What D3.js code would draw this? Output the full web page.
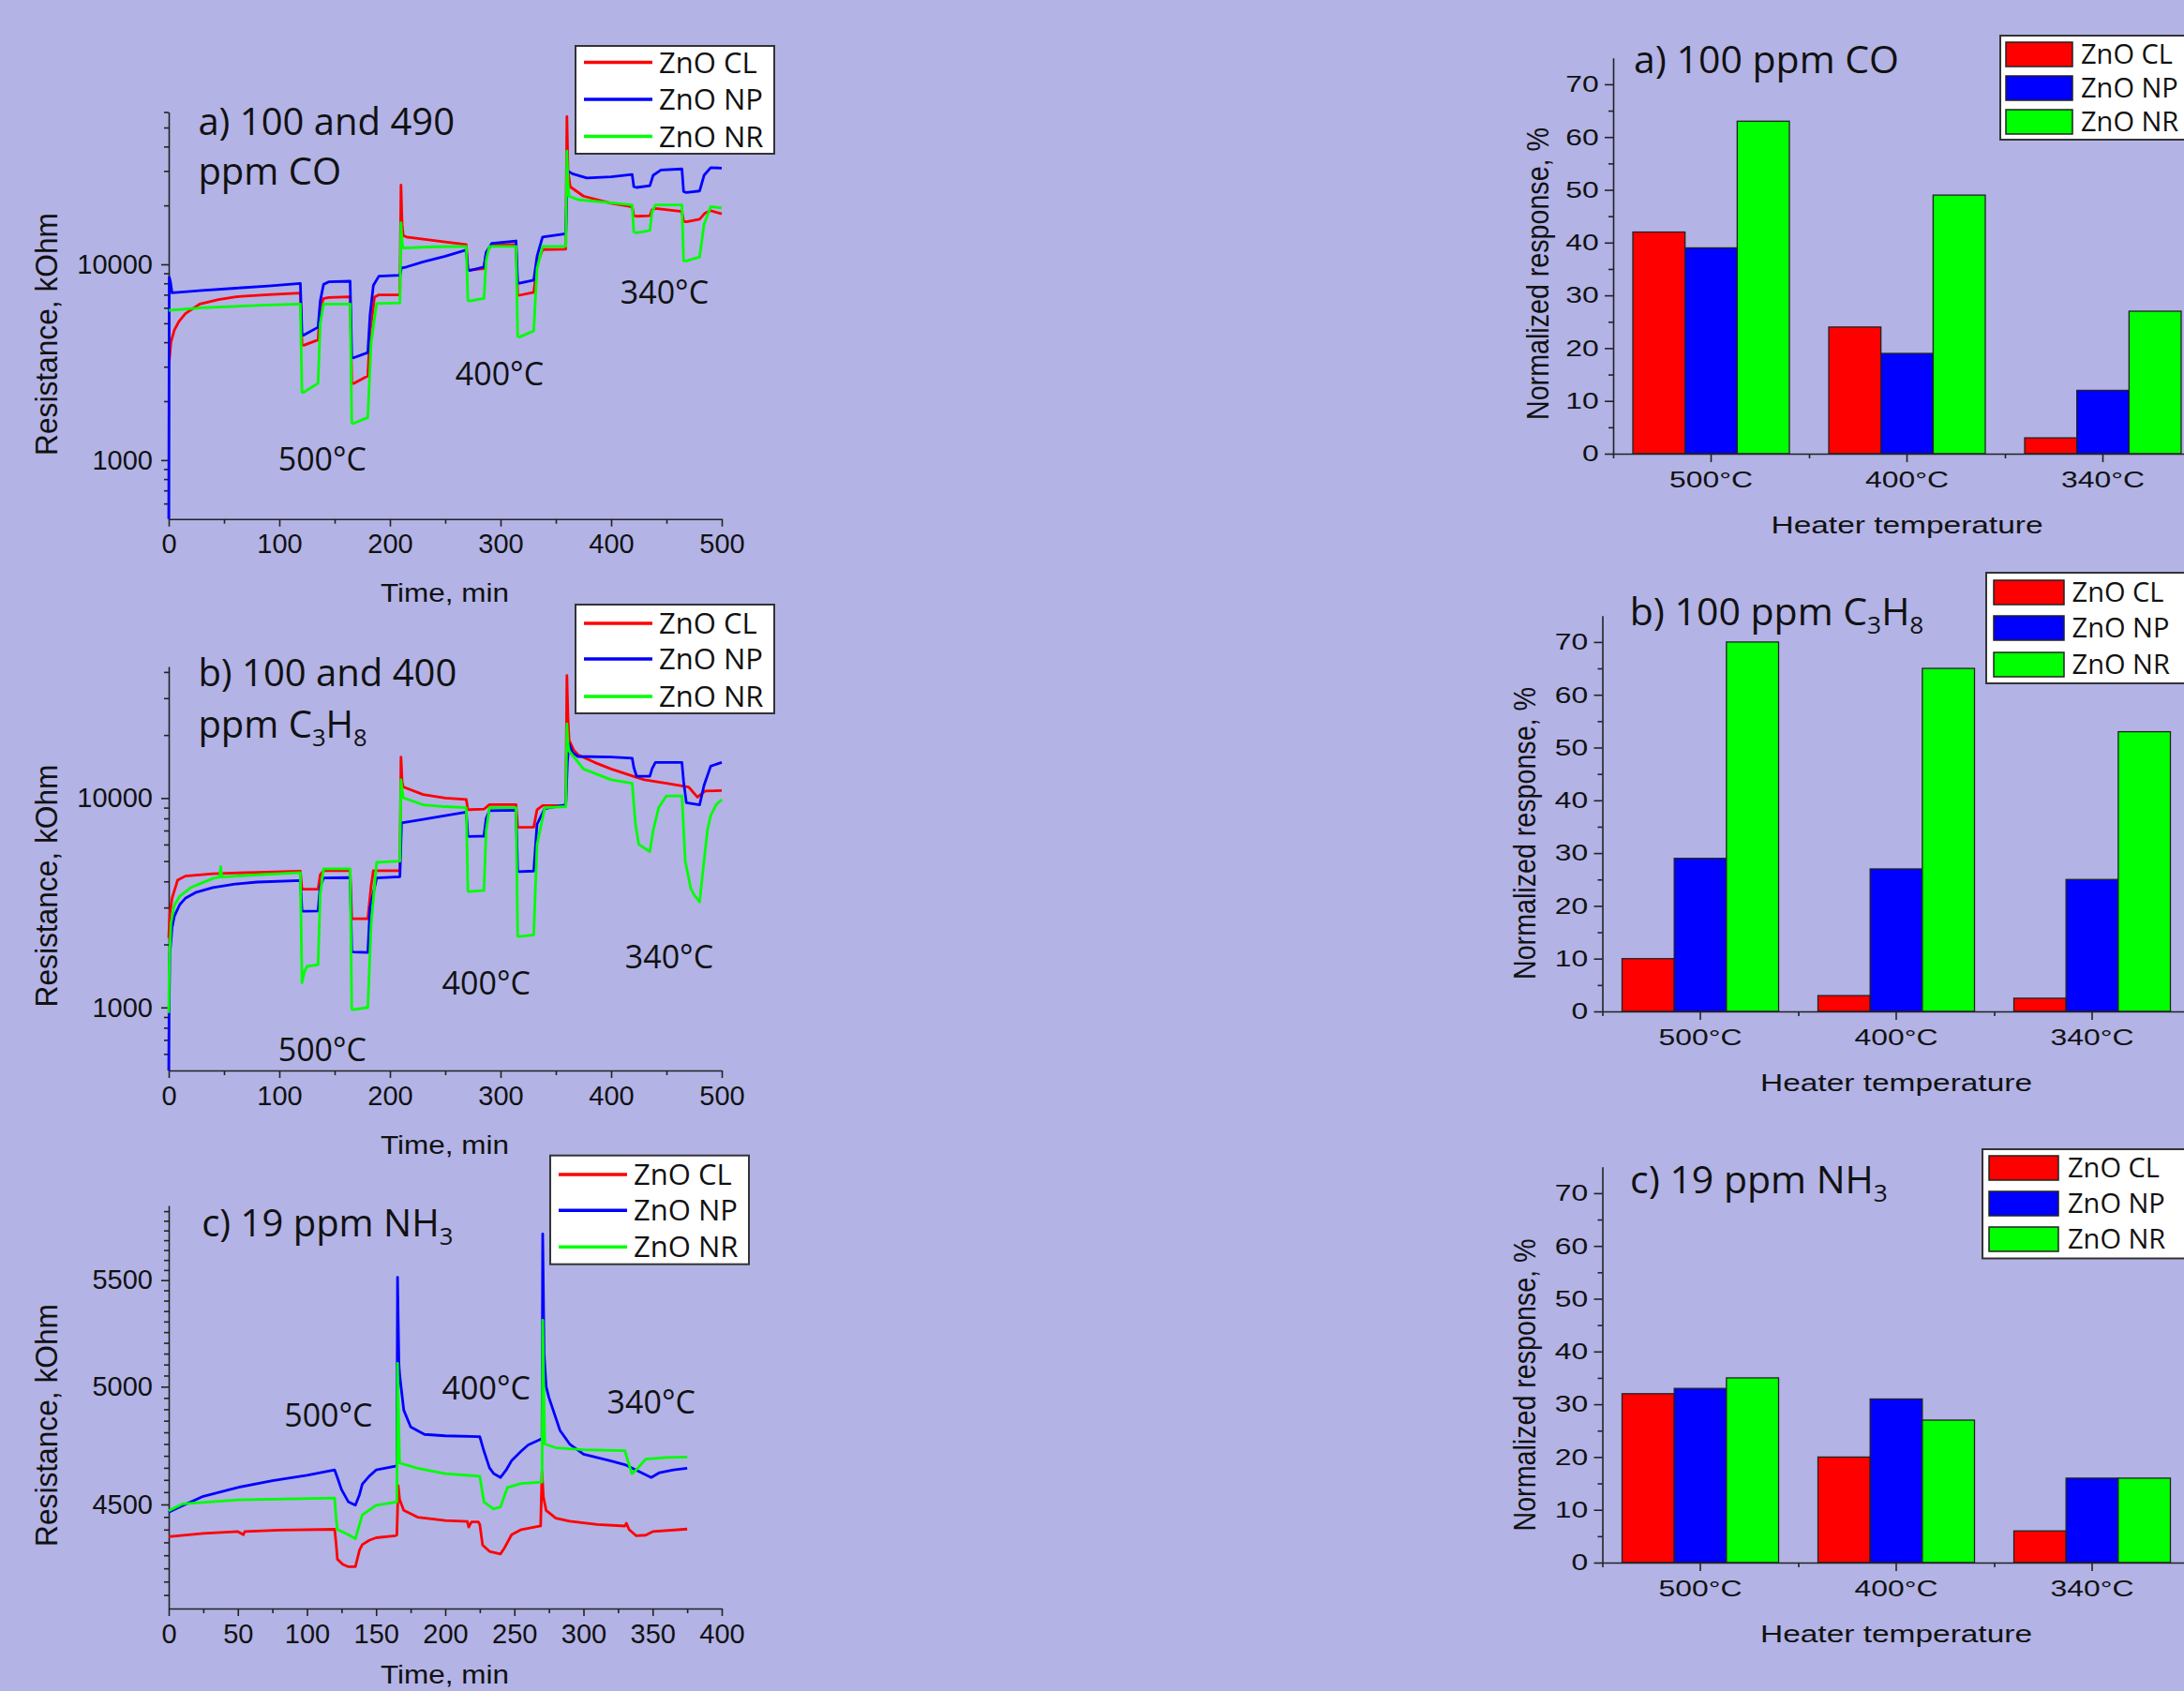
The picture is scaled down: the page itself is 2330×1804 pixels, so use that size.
<!DOCTYPE html>
<html><head><meta charset="utf-8">
<script src="https://cdn.jsdelivr.net/npm/d3@7"></script>
<style>html,body{margin:0;padding:0;background:#b3b3e6;overflow:hidden}svg{display:block}</style>
</head><body>
<svg id="c" width="2330" height="1804"></svg>
<script>
// ---------------- DATA ----------------
const temps = ["500°C", "400°C", "340°C"];
const materials = ["ZnO CL", "ZnO NP", "ZnO NR"];
const colors = ["#ff0000", "#0000ff", "#00ff00"];

// Time (min), resistance (kOhm) — 100 and 490 ppm CO
const coCL = [[0.5,3200],[2,4000],[5,4600],[9,5080],[15,5600],[28,6270],[45,6600],[61,6830],[90,7000],[119,7130],[120.5,3900],[122,3860],[135,4110],[137,6000],[140,6700],[145,6770],[164,6830],[165.5,2470],[167,2460],[180,2690],[182,4500],[186,6800],[190,6980],[209,6980],[210,25400],[211,16000],[212,14040],[215,13800],[230,13450],[250,13000],[269,12630],[270.5,9390],[272,9350],[285,9500],[287,11500],[292,12600],[314,12630],[315.5,6980],[317,6950],[330,7200],[333,10000],[338,11900],[359,11950],[360,56900],[361,30000],[363,24900],[375,22300],[400,20500],[419,19700],[420.5,17700],[423,17600],[435,17700],[437,19000],[440,19300],[464,18600],[465.5,16600],[468,16500],[480,17000],[485,18300],[490,18800],[500,18100]];
const coNP = [[0,500],[0.5,8600],[1.5,8200],[3,7150],[30,7350],[60,7550],[90,7750],[119,7990],[120.5,4400],[122,4350],[135,4770],[137,6500],[140,7900],[145,8150],[164,8200],[165.5,3350],[167,3330],[180,3540],[182,5500],[185,7800],[190,8700],[209,8800],[210.5,9590],[215,9700],[230,10300],[250,11000],[269,11850],[270.5,9400],[272,9300],[285,9700],[287,11500],[292,12800],[314,13170],[315.5,8100],[317,8000],[330,8300],[333,11000],[338,13800],[359,14330],[360.5,30100],[365,29000],[378,27600],[400,28000],[419,28800],[420.5,24900],[423,24700],[435,25200],[438,28500],[445,30300],[464,30700],[465.5,23500],[468,23300],[480,23700],[484,28500],[490,31200],[500,31000]];
const coNR = [[0,5820],[30,6000],[60,6100],[90,6200],[119,6270],[120.5,2220],[122,2220],[135,2470],[137,5000],[140,6270],[164,6270],[165.5,1550],[167,1540],[180,1650],[183,4000],[188,6300],[209,6350],[210,16300],[211,13000],[212,12100],[240,12300],[269,12360],[270.5,6550],[272,6500],[285,6700],[287,10500],[290,12360],[314,12360],[315.5,4290],[317,4250],[330,4570],[333,9500],[338,12360],[359,12360],[360,37900],[361,26000],[362,22300],[370,21400],[400,20600],[419,20100],[420.5,14640],[423,14500],[435,14900],[437,18500],[440,20100],[464,20100],[465.5,10430],[468,10400],[480,10900],[484,16000],[490,19700],[500,19400]];

// 100 and 400 ppm C3H8
const c3h8CL = [[0,2150],[1,2800],[3,3320],[8,4050],[15,4240],[40,4350],[80,4420],[119,4470],[120.5,3670],[122,3670],[135,3670],[137,4300],[140,4500],[164,4500],[165.5,2650],[167,2650],[180,2650],[183,3800],[185,4500],[209,4500],[210,15700],[211,12000],[212,11300],[230,10400],[250,10000],[269,9840],[270.5,8810],[272,8800],[285,8850],[290,9300],[314,9300],[315.5,7260],[317,7250],[330,7260],[333,8800],[338,9200],[359,9200],[360,38500],[361,24000],[362,18900],[366,17000],[370,16100],[385,14800],[400,13770],[420,12700],[430,12230],[450,11750],[470,11300],[478,10100],[485,10800],[500,10860]];
const c3h8NP = [[0,500],[0.3,950],[1,1800],[3,2400],[5,2720],[10,3100],[15,3320],[25,3550],[40,3740],[60,3880],[80,3970],[119,4040],[120.5,2890],[122,2880],[135,2890],[137,3800],[140,4150],[164,4170],[165.5,1850],[167,1840],[180,1830],[182,3000],[188,4150],[209,4210],[210.5,7610],[230,7900],[250,8250],[269,8570],[270.5,6580],[272,6550],[285,6580],[287,8000],[290,8700],[314,8750],[315.5,4470],[317,4450],[330,4480],[333,7500],[340,8900],[359,9280],[360.5,15000],[362,18150],[365,16500],[370,15800],[400,15700],[419,15500],[420.5,14000],[423,12720],[435,12720],[437,13800],[440,14800],[464,14800],[465.5,12000],[468,9500],[480,9280],[484,11500],[490,14200],[500,14800]];
const c3h8NR = [[0,940],[0.5,1600],[2,2520],[5,3070],[10,3400],[20,3740],[40,4130],[46,4200],[47,4700],[48,4200],[80,4300],[119,4410],[120.5,1310],[123,1500],[125,1570],[135,1600],[137,3500],[140,4590],[164,4590],[165.5,980],[167,975],[180,1000],[183,2500],[188,4930],[209,5000],[210,12230],[211,11000],[212,10040],[230,9280],[250,9100],[269,8990],[270.5,3590],[272,3580],[285,3620],[287,7000],[290,8990],[314,8990],[315.5,2190],[317,2180],[330,2220],[333,6000],[340,8990],[359,9100],[360,22600],[361,18000],[362,16800],[375,13770],[400,12230],[419,11750],[422,7500],[425,6000],[435,5550],[438,7000],[443,9000],[450,10240],[464,10240],[467,5000],[472,3700],[475,3450],[480,3190],[483,4500],[487,7000],[490,8240],[495,9300],[500,9840]];

// 19 ppm NH3
const nh3CL = [[0,4372],[25,4385],[50,4392],[54,4380],[55,4392],[80,4398],[120,4401],[121,4350],[122,4285],[126,4265],[130,4256],[135,4256],[138,4320],[140,4341],[145,4358],[150,4368],[164,4376],[165,4378],[166,4576],[167,4520],[170,4476],[180,4449],[200,4436],[216,4432],[217,4410],[219,4430],[224,4430],[225,4420],[227,4340],[232,4315],[240,4305],[243,4330],[248,4380],[255,4400],[269,4414],[270,4632],[271,4530],[273,4476],[280,4445],[290,4433],[310,4420],[330,4414],[331,4425],[333,4400],[338,4376],[345,4378],[350,4392],[375,4402]];
const nh3NP = [[0,4469],[10,4495],[25,4533],[50,4569],[75,4597],[100,4619],[120,4641],[122,4610],[125,4560],[130,4510],[135,4497],[138,4540],[140,4582],[145,4615],[150,4641],[165,4658],[165.5,5514],[166.5,5100],[167,5056],[170,4896],[175,4823],[185,4791],[200,4785],[225,4781],[228,4720],[232,4650],[235,4626],[240,4610],[244,4640],[248,4680],[255,4720],[260,4746],[270,4773],[270.5,5732],[271.5,5147],[273,5000],[275,4952],[283,4808],[290,4750],[300,4707],[320,4678],[330,4663],[340,4635],[349,4610],[355,4630],[365,4641],[375,4648]];
const nh3NR = [[0,4475],[10,4502],[50,4518],[120,4526],[121,4450],[122,4400],[130,4380],[135,4364],[138,4420],[140,4458],[150,4497],[165,4510],[165.5,5106],[166.5,4800],[167,4670],[180,4648],[200,4626],[225,4615],[226,4580],[228,4510],[235,4482],[240,4490],[245,4569],[255,4585],[270,4591],[270.5,5306],[271.5,4900],[272,4750],[280,4734],[300,4726],[330,4722],[332,4680],[335,4626],[338,4640],[345,4686],[360,4693],[375,4695]];

// Normalized response, % (order: 500, 400, 340 °C)
const respCO_CL = [42, 24, 3];
const respCO_NP = [39, 19, 12];
const respCO_NR = [63, 49, 27];
const respC3H8_CL = [10, 3, 2.5];
const respC3H8_NP = [29, 27, 25];
const respC3H8_NR = [70, 65, 53];
const respNH3_CL = [32, 20, 6];
const respNH3_NP = [33, 31, 16];
const respNH3_NR = [35, 27, 16];

// Tick values
const xTicks500 = [0, 100, 200, 300, 400, 500];
const xMinor500 = [50, 150, 250, 350, 450];
const xTicks400 = [0, 50, 100, 150, 200, 250, 300, 350, 400];
const xMinor400 = [25, 75, 125, 175, 225, 275, 325, 375];
const yTicksLog = [1000, 10000];
const yMinorLog = [600, 700, 800, 900, 2000, 3000, 4000, 5000, 6000, 7000, 8000, 9000, 20000, 30000, 40000, 50000, 60000];
const yTicksNH3 = [4500, 5000, 5500];
const yMinorNH3 = [4150, 4200, 4250, 4300, 4350, 4400, 4450, 4550, 4600, 4650, 4700, 4750, 4800, 4850, 4900, 4950, 5050, 5100, 5150, 5200, 5250, 5300, 5350, 5400, 5450, 5550, 5600, 5650, 5700, 5750, 5800, 5850];
const yTicksResp = [0, 10, 20, 30, 40, 50, 60, 70];
const yMinorResp = [5, 15, 25, 35, 45, 55, 65];

// ---------------- DRAWING ----------------
const svg = d3.select("#c");
svg.append("rect").attr("width", 2330).attr("height", 1804).attr("fill", "#b3b3e6");
const SANS = "'Liberation Sans', Arial, sans-serif";
const OS = "'Open Sans', sans-serif";
const INK = "#111";
const AX = "#222";

function styleAxis(sel, fs) {
  sel.attr("font-family", SANS).attr("font-size", fs);
  sel.selectAll(".domain").attr("stroke", AX).attr("stroke-width", 1.6);
  sel.selectAll(".tick line").attr("stroke", AX).attr("stroke-width", 1.6);
  sel.selectAll("text").attr("fill", INK);
}

function addText(g, x, y, str, size, family, opts = {}) {
  const t = g.append("text").attr("x", x).attr("y", y).attr("font-size", size)
    .attr("font-family", family).attr("fill", INK).text(str);
  if (opts.anchor) t.attr("text-anchor", opts.anchor);
  if (opts.len) t.attr("textLength", opts.len).attr("lengthAdjust", "spacingAndGlyphs");
  return t;
}

function subText(g, x, y, parts, size) {
  const t = g.append("text").attr("x", x).attr("y", y).attr("font-size", size)
    .attr("font-family", OS).attr("fill", INK);
  let down = false;
  parts.forEach(([s, sub]) => {
    const ts = t.append("tspan").text(s);
    if (sub && !down) { ts.attr("font-size", size * 0.64).attr("dy", size * 0.22); down = true; }
    else if (sub) { ts.attr("font-size", size * 0.64); }
    else if (down) { ts.attr("dy", -size * 0.22); down = false; }
  });
  return t;
}

let clipN = 0;
function lineChart(L) {
  const g = svg.append("g");
  const x = d3.scaleLinear().domain(L.xDomain).range([L.left, L.right]);
  const y = d3.scaleLog().domain(L.yDomain).range([L.bottom, L.top]);
  const TF = 29;

  const xm = g.append("g").attr("transform", `translate(0,${L.bottom})`)
    .call(d3.axisBottom(x).tickValues(L.xMinor).tickSize(5).tickFormat(""));
  xm.select(".domain").remove(); styleAxis(xm, TF);
  const ym = g.append("g").attr("transform", `translate(${L.left},0)`)
    .call(d3.axisLeft(y).tickValues(L.yMinor.filter(v => v >= L.yDomain[0] && v <= L.yDomain[1])).tickSize(5).tickFormat(""));
  ym.select(".domain").remove(); styleAxis(ym, TF);

  const xa = g.append("g").attr("transform", `translate(0,${L.bottom})`)
    .call(d3.axisBottom(x).tickValues(L.xTicks).tickSize(8).tickPadding(8).tickSizeOuter(0).tickFormat(d3.format("d")));
  styleAxis(xa, TF);
  const ya = g.append("g").attr("transform", `translate(${L.left},0)`)
    .call(d3.axisLeft(y).tickValues(L.yTicks).tickSize(8).tickPadding(9).tickSizeOuter(0).tickFormat(d3.format("d")));
  styleAxis(ya, TF);

  const id = "clip" + (clipN++);
  g.append("clipPath").attr("id", id).append("rect")
    .attr("x", L.left - 2).attr("y", L.top).attr("width", L.right - L.left + 4).attr("height", L.bottom - L.top);
  const line = d3.line().x(d => x(d[0])).y(d => y(Math.max(d[1], L.yDomain[0])));
  L.series.forEach((s, i) => {
    g.append("path").datum(s).attr("d", line).attr("fill", "none")
      .attr("stroke", colors[i]).attr("stroke-width", 2.8).attr("stroke-linejoin", "round")
      .attr("clip-path", `url(#${id})`);
  });

  addText(g, L.xLabel[0], L.xLabel[1], "Time, min", 27, SANS, { anchor: "middle", len: 137 });
  addText(g, 0, 0, "Resistance, kOhm", 34, SANS, { anchor: "middle", len: 259 })
    .attr("transform", `translate(${L.yLabel[0]},${L.yLabel[1]}) rotate(-90)`);

  L.title(g);
  L.tempLabels.forEach(([s, tx, ty]) => addText(g, tx, ty, s, 34, OS));

  const lg = L.legend;
  g.append("rect").attr("x", lg.x).attr("y", lg.y).attr("width", lg.w).attr("height", lg.h)
    .attr("fill", "#fff").attr("stroke", "#333").attr("stroke-width", 2);
  materials.forEach((m, i) => {
    g.append("line").attr("x1", lg.lx1).attr("x2", lg.lx2).attr("y1", lg.rows[i]).attr("y2", lg.rows[i])
      .attr("stroke", colors[i]).attr("stroke-width", 3.5);
    addText(g, lg.tx, lg.rows[i] + 11, m, 31, OS);
  });
}

lineChart({
  left: 180, right: 770, top: 119.5, bottom: 553.7,
  xDomain: [0, 500], yDomain: [500, 60000],
  xTicks: xTicks500, xMinor: xMinor500, yTicks: yTicksLog, yMinor: yMinorLog,
  series: [coCL, coNP, coNR],
  xLabel: [474.5, 641.7], yLabel: [61, 356.5],
  title: g => { addText(g, 211.4, 144, "a) 100 and 490", 40, OS); addText(g, 211.4, 197, "ppm CO", 40, OS); },
  tempLabels: [["500°C", 296.7, 502], ["400°C", 485.8, 411.3], ["340°C", 661.8, 324]],
  legend: { x: 614, y: 49, w: 212, h: 115, lx1: 623, lx2: 696, tx: 703, rows: [66.5, 106, 145.5] }
});

lineChart({
  left: 180, right: 770, top: 711, bottom: 1142,
  xDomain: [0, 500], yDomain: [500, 42500],
  xTicks: xTicks500, xMinor: xMinor500, yTicks: yTicksLog, yMinor: yMinorLog,
  series: [c3h8CL, c3h8NP, c3h8NR],
  xLabel: [474.5, 1231], yLabel: [61, 945],
  title: g => { addText(g, 211.4, 731.8, "b) 100 and 400", 40, OS);
    subText(g, 211.4, 787, [["ppm C", false], ["3", true], ["H", false], ["8", true]], 40); },
  tempLabels: [["500°C", 296.7, 1131.8], ["400°C", 471.6, 1061], ["340°C", 666.8, 1033.4]],
  legend: { x: 614, y: 645, w: 212, h: 116, lx1: 623, lx2: 696, tx: 703, rows: [665, 703, 743] }
});

lineChart({
  left: 180, right: 770, top: 1286, bottom: 1716,
  xDomain: [0, 400], yDomain: [4100, 5880],
  xTicks: xTicks400, xMinor: xMinor400, yTicks: yTicksNH3, yMinor: yMinorNH3,
  series: [nh3CL, nh3NP, nh3NR],
  xLabel: [474.5, 1796], yLabel: [61, 1520.5],
  title: g => { subText(g, 215.2, 1318.8, [["c) 19 ppm NH", false], ["3", true]], 40); },
  tempLabels: [["500°C", 303.2, 1521.6], ["400°C", 471.6, 1493], ["340°C", 647.6, 1507.5]],
  legend: { x: 587, y: 1232.7, w: 212, h: 116, lx1: 596, lx2: 669, tx: 676, rows: [1253, 1291.3, 1330.3] }
});

// ---------------- BAR CHARTS ----------------
const SX = 1.3;
function barChart(B) {
  const g = svg.append("g");
  const band = 209;
  const x0 = d3.scaleBand().domain(temps).range([B.left, B.left + 3 * band]);
  const x1 = d3.scaleBand().domain(materials).range([21, 188]);
  const y = d3.scaleLinear().domain([0, 75]).range([B.zero, B.zero - 75 * 5.63]);
  const xs = d3.scaleLinear().domain([0, 3]).range(x0.range());

  temps.forEach((t, ti) => {
    B.data.forEach((arr, mi) => {
      g.append("rect").attr("x", x0(t) + x1(materials[mi])).attr("width", x1.bandwidth())
        .attr("y", y(arr[ti])).attr("height", y(0) - y(arr[ti]))
        .attr("fill", colors[mi]).attr("stroke", "#222").attr("stroke-width", 1.3);
    });
  });

  const ym = g.append("g").attr("transform", `translate(${B.left},0)`)
    .call(d3.axisLeft(y).tickValues(yMinorResp).tickSize(5).tickFormat(""));
  ym.select(".domain").remove(); styleAxis(ym, 24.5);
  const ya = g.append("g").attr("transform", `translate(${B.left},0)`)
    .call(d3.axisLeft(y).tickValues(yTicksResp).tickSize(9).tickPadding(6).tickSizeOuter(0));
  styleAxis(ya, 24.5);
  ya.selectAll("text").attr("x", -15.4 / SX).attr("transform", `scale(${SX},1)`);

  const xsep = g.append("g").attr("transform", `translate(0,${B.zero})`)
    .call(d3.axisBottom(xs).tickValues([0, 1, 2]).tickSize(5).tickFormat(""));
  xsep.select(".domain").remove(); styleAxis(xsep, 24.5);
  const xa = g.append("g").attr("transform", `translate(0,${B.zero})`)
    .call(d3.axisBottom(x0).tickSize(9).tickPadding(9.6).tickSizeOuter(0));
  styleAxis(xa, 24.5);
  xa.selectAll("text").attr("transform", `scale(${SX},1)`);

  addText(g, x0("400°C") + band / 2, B.zero + 85, "Heater temperature", 25.5, SANS, { anchor: "middle", len: 290 });
  addText(g, 0, 0, "Normalized response, %", 33, SANS, { anchor: "middle", len: 312 })
    .attr("transform", `translate(${B.yLabel[0]},${B.yLabel[1]}) rotate(-90)`);

  B.title(g);

  const lg = B.legend;
  g.append("rect").attr("x", lg.x).attr("y", lg.y).attr("width", 260).attr("height", lg.h)
    .attr("fill", "#fff").attr("stroke", "#333").attr("stroke-width", 2);
  materials.forEach((m, i) => {
    g.append("rect").attr("x", lg.sx).attr("y", lg.rows[i]).attr("width", lg.sw).attr("height", 26)
      .attr("fill", colors[i]).attr("stroke", "#222").attr("stroke-width", 1.5);
    addText(g, lg.tx, lg.rows[i] + 23, m, 29, OS);
  });
}

barChart({
  left: 1721, zero: 484, data: [respCO_CL, respCO_NP, respCO_NR],
  yLabel: [1652, 292],
  title: g => addText(g, 1743, 78, "a) 100 ppm CO", 41, OS),
  legend: { x: 2134, y: 38, h: 111, sx: 2140, sw: 71, tx: 2220, rows: [45, 81, 117] }
});
barChart({
  left: 1709.5, zero: 1079, data: [respC3H8_CL, respC3H8_NP, respC3H8_NR],
  yLabel: [1638, 889],
  title: g => subText(g, 1738.7, 667, [["b) 100 ppm C", false], ["3", true], ["H", false], ["8", true]], 41),
  legend: { x: 2119, y: 611, h: 118, sx: 2127, sw: 75, tx: 2210.6, rows: [619, 657, 696] }
});
barChart({
  left: 1709.5, zero: 1667, data: [respNH3_CL, respNH3_NP, respNH3_NR],
  yLabel: [1638, 1477.5],
  title: g => subText(g, 1739, 1273, [["c) 19 ppm NH", false], ["3", true]], 41),
  legend: { x: 2115, y: 1226, h: 116.5, sx: 2122, sw: 74, tx: 2206, rows: [1233, 1271, 1309] }
});
</script>
</body></html>
